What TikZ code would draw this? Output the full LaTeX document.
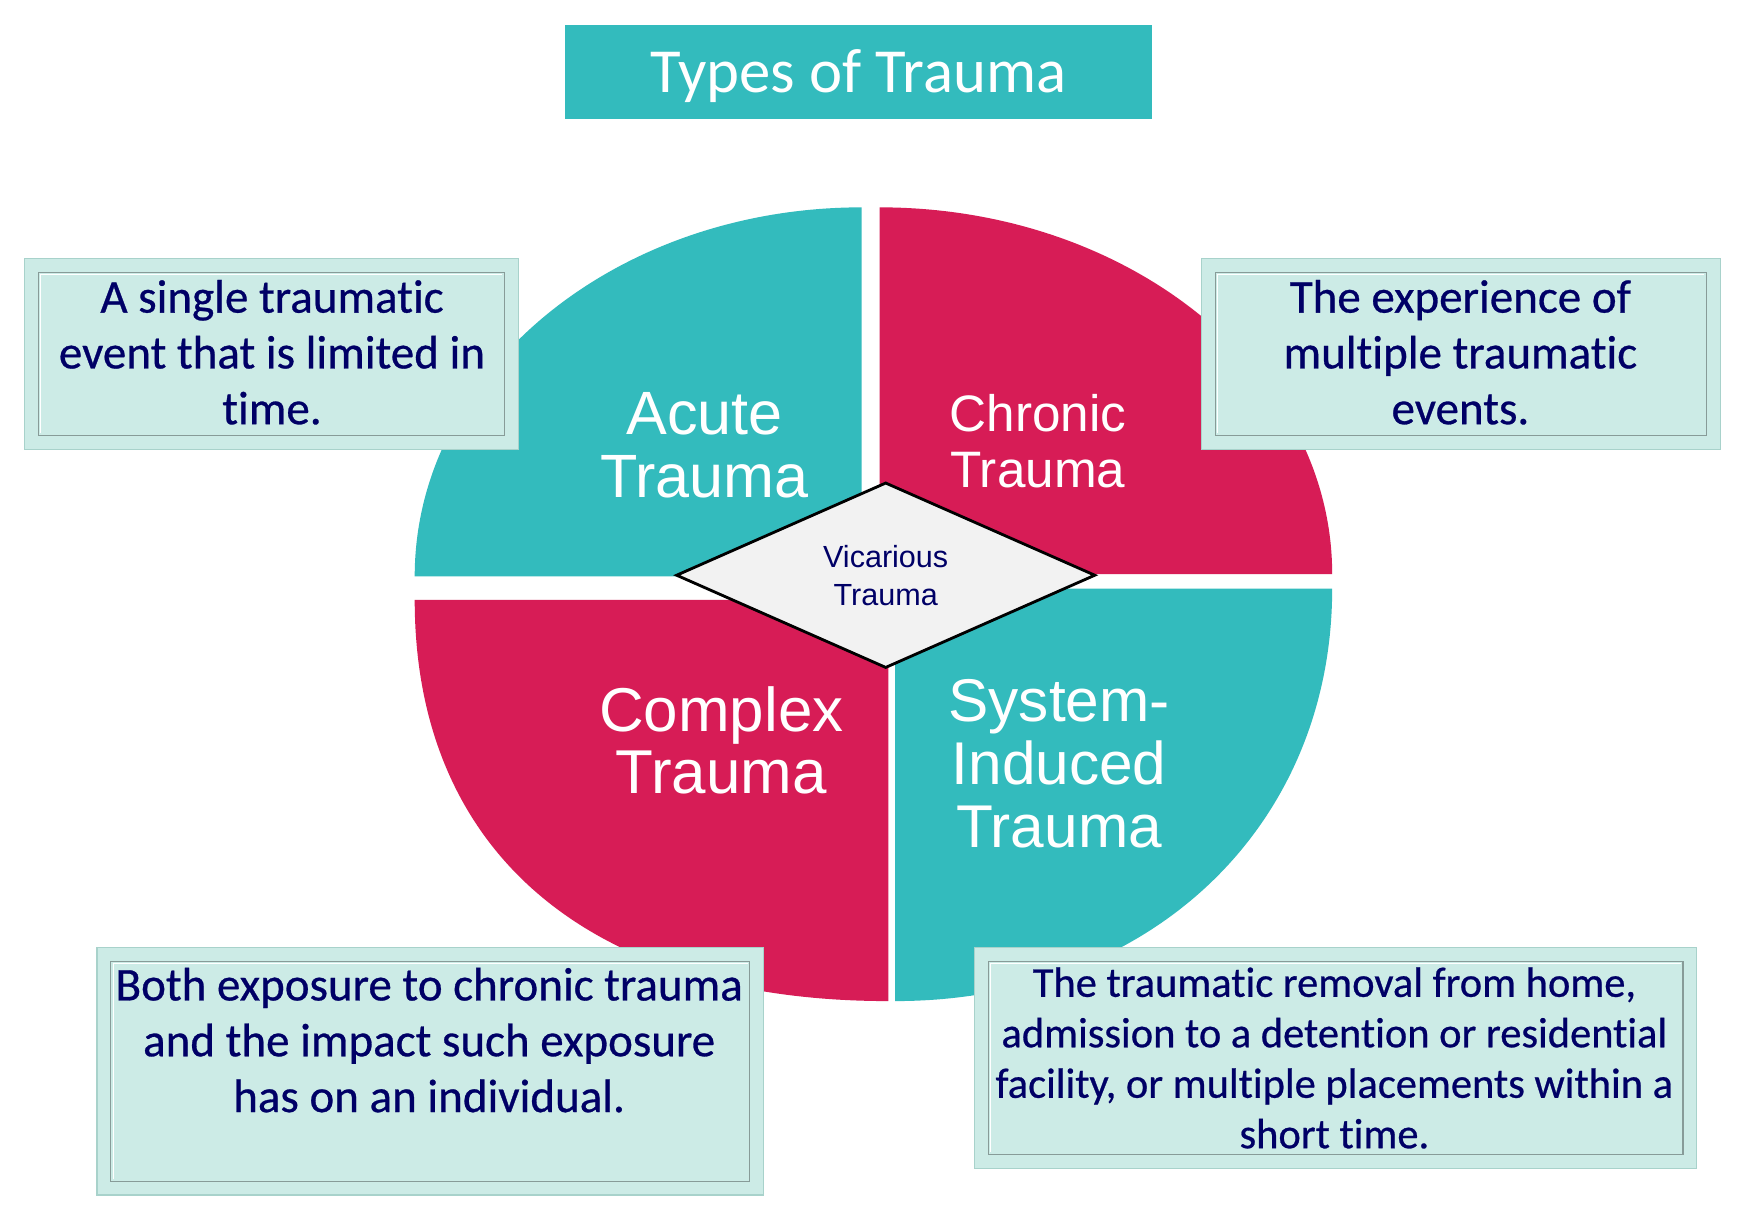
\documentclass[tikz,border=0pt]{standalone}
\usepackage{fontspec}
\setmainfont{Carlito}[Ligatures=CommonOff]
\newfontfamily\descf{Carlito}[Ligatures=CommonOff, FakeBold=0.6]
\newfontfamily\arialf{Liberation Sans}
\usetikzlibrary{shapes.geometric}
\definecolor{teal1}{RGB}{51,187,189}
\definecolor{crim}{RGB}{215,28,86}
\definecolor{navy}{RGB}{0,0,102}
\definecolor{boxfill}{RGB}{204,235,230}
\definecolor{boxedge}{RGB}{168,210,203}
\definecolor{frameedge}{RGB}{135,155,152}
\definecolor{diafill}{RGB}{242,242,242}
\begin{document}
\begin{tikzpicture}[x=0.025cm,y=-0.025cm,
  descbox/.style={rectangle, fill=boxfill, draw=boxedge, line width=0.8pt, inner sep=0pt},
  desctext/.style={text=navy, align=center, inner sep=0pt, font=\descf\fontsize{30}{35.6}\selectfont},
  quadlabel/.style={text=white, align=center, inner sep=0pt},
  framein/.style={draw=frameedge, line width=0.7pt},
  framehi/.style={draw=white, line width=0.6pt}]
\useasboundingbox (0,0) rectangle (1568,1089);
\fill[white] (0,0) rectangle (1568,1089);

% title
\node[fill=teal1, minimum width=13.15cm, minimum height=2.125cm, inner sep=0pt,
      text=white, text height=25.8pt, text depth=0pt,
      font=\fontsize{40}{48}\selectfont] (title) at (770,64.5) {Types of Trauma};

% quadrants
\fill[teal1] (773,517) -- (372,517) .. controls (372,334.2) and (551.5,186) .. (773,186) -- cycle;
\fill[crim] (789,515) -- (789,186) .. controls (1013.2,186) and (1195,333.3) .. (1195,515) -- cycle;
\fill[crim] (797,538) -- (372,538) .. controls (372,764.8) and (529.3,898) .. (797,898) -- cycle;
\fill[teal1] (803,528) -- (1195,528) .. controls (1195,742.6) and (1030.4,898) .. (803,898) -- cycle;

% quadrant labels
\node[quadlabel, font=\arialf\fontsize{39}{40.5}\selectfont] (acute) at (632,399.5) {Acute\\Trauma};
\node[quadlabel, font=\arialf\fontsize{32.7}{35.6}\selectfont] (chronic) at (931,396) {Chronic\\Trauma};
\node[quadlabel, font=\arialf\fontsize{39.5}{39.8}\selectfont] (complex) at (647,664) {Complex\\Trauma};
\node[quadlabel, font=\arialf\fontsize{38.5}{40.2}\selectfont] (system) at (950,685) {System-\\Induced\\Trauma};

% centre diamond
\node[diamond, fill=diafill, draw=black, line width=1.8pt, inner sep=0pt,
      minimum width=9.4cm, minimum height=4.11cm, align=center, text=navy,
      font=\arialf\fontsize{19.5}{24.2}\selectfont] (vic) at (794.5,516) {Vicarious\\Trauma};

% description boxes
\node[descbox, minimum width=11.075cm, minimum height=4.275cm] (b1) at (243.5,317.5) {};
\node[descbox, minimum width=11.625cm, minimum height=4.275cm] (b2) at (1310.5,317.5) {};
\node[descbox, minimum width=14.95cm, minimum height=5.55cm] (b3) at (386,961) {};
\node[descbox, minimum width=16.2cm, minimum height=4.95cm] (b4) at (1198,949) {};
\foreach \b in {b1,b2,b3,b4}{
  \draw[framein] ([shift={(13,13)}]\b.north west) rectangle ([shift={(-13,-13)}]\b.south east);
  \draw[framehi] ([shift={(15,-15)}]\b.south west) -- ([shift={(15,15)}]\b.north west) -- ([shift={(-15,15)}]\b.north east);
}

\node[desctext] (t1) at (244,316) {A single traumatic\\event that is limited in\\time.};
\node[desctext] (t2) at (1310,316) {The experience of\\multiple traumatic\\events.};
\node[desctext] (t3) at (385,933) {Both exposure to chronic trauma\\and the impact such exposure\\has on an individual.};
\node[desctext, font=\descf\fontsize{27.1}{32.2}\selectfont] (t4) at (1197,949) {The traumatic removal from home,\\admission to a detention or residential\\facility, or multiple placements within a\\short time.};
\end{tikzpicture}
\end{document}
